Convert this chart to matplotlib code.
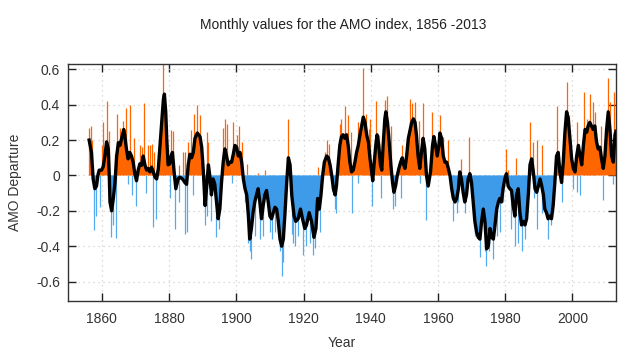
import matplotlib
matplotlib.use('Agg')
import matplotlib.pyplot as plt
import numpy as np

plt.rcParams['font.family'] = ['Liberation Sans', 'DejaVu Sans']

# smoothed AMO index (black line)
smooth_years = [1856.2, 1856.9, 1857.4, 1857.9, 1858.4, 1858.8, 1859.2, 1859.9, 1860.4, 1860.9,
                1861.4, 1861.9, 1862.2, 1862.4, 1862.9, 1863.4, 1863.9, 1864.4, 1864.9, 1865.4,
                1865.9, 1866.5, 1866.8, 1867.3, 1867.8, 1868.3, 1868.8, 1869.3, 1869.8, 1870.3,
                1870.8, 1871.3, 1871.8, 1872.3, 1872.8, 1873.3, 1873.8, 1874.3, 1874.8, 1875.3,
                1875.8, 1876.3, 1876.8, 1877.3, 1877.8, 1878.3, 1878.6, 1879.0, 1879.3, 1879.7,
                1880.2, 1880.6, 1881.0, 1881.5, 1882.0, 1882.7, 1883.2, 1884.0, 1884.7, 1885.2,
                1885.7, 1886.2, 1886.7, 1887.2, 1887.7, 1888.4, 1889.2, 1889.7, 1890.2, 1890.7,
                1891.2, 1891.7, 1892.1, 1892.6, 1893.1, 1893.6, 1894.1, 1894.6, 1895.1, 1895.6,
                1896.1, 1896.6, 1897.1, 1897.6, 1898.1, 1898.6, 1899.1, 1899.6, 1900.1, 1900.6,
                1901.1, 1901.6, 1902.1, 1902.6, 1903.1, 1903.6, 1904.0, 1904.5, 1905.0, 1905.5,
                1906.0, 1906.5, 1907.0, 1907.5, 1908.0, 1908.5, 1909.0, 1909.5, 1910.0, 1910.5,
                1911.0, 1911.5, 1912.0, 1912.5, 1913.0, 1913.5, 1914.0, 1914.5, 1915.0, 1915.5,
                1916.0, 1916.5, 1917.2, 1917.7, 1918.4, 1919.1, 1919.7, 1920.4, 1920.9, 1921.7,
                1922.4, 1923.1, 1923.7, 1924.2, 1924.7, 1925.2, 1925.7, 1926.2, 1926.9, 1927.4,
                1927.9, 1928.4, 1928.9, 1929.4, 1929.8, 1930.3, 1930.8, 1931.3, 1931.8, 1932.3,
                1932.8, 1933.3, 1933.8, 1934.3, 1934.8, 1935.3, 1935.8, 1936.3, 1936.8, 1937.3,
                1937.8, 1938.3, 1938.8, 1939.3, 1939.8, 1940.3, 1940.6, 1940.9, 1941.5, 1941.9,
                1942.4, 1942.9, 1943.3, 1943.7, 1944.2, 1944.5, 1945.0, 1945.5, 1946.0, 1946.5,
                1946.9, 1947.4, 1947.9, 1948.4, 1948.9, 1949.4, 1949.7, 1950.2, 1950.7, 1951.2,
                1951.7, 1952.2, 1952.7, 1953.2, 1953.6, 1954.1, 1954.6, 1955.1, 1955.6, 1956.1,
                1956.6, 1957.1, 1957.8, 1958.4, 1958.8, 1959.3, 1959.8, 1960.3, 1960.6, 1961.1,
                1961.6, 1962.1, 1962.6, 1963.1, 1963.6, 1964.1, 1964.6, 1965.1, 1965.6, 1966.1,
                1966.5, 1967.0, 1967.5, 1968.0, 1968.5, 1969.0, 1969.5, 1970.0, 1970.5, 1971.0,
                1971.5, 1972.0, 1972.5, 1973.0, 1973.5, 1974.0, 1974.5, 1975.0, 1975.5, 1976.0,
                1976.5, 1977.0, 1977.5, 1978.0, 1978.4, 1978.9, 1979.4, 1979.9, 1980.4, 1980.9,
                1981.4, 1981.9, 1982.4, 1982.9, 1983.4, 1983.9, 1984.4, 1984.9, 1985.4, 1985.9,
                1986.4, 1986.9, 1987.4, 1987.9, 1988.4, 1988.9, 1989.4, 1989.9, 1990.4, 1990.9,
                1991.4, 1991.8, 1992.3, 1992.8, 1993.3, 1993.8, 1994.3, 1994.8, 1995.3, 1995.8,
                1996.3, 1996.8, 1997.3, 1997.8, 1998.3, 1998.8, 1999.3, 1999.8, 2000.3, 2000.8,
                2001.3, 2001.8, 2002.3, 2002.8, 2003.3, 2003.8, 2004.3, 2004.7, 2005.2, 2005.7,
                2006.2, 2006.7, 2007.2, 2007.7, 2008.2, 2008.7, 2009.2, 2009.7, 2010.2, 2010.7,
                2011.2, 2011.7, 2012.2, 2012.7, 2013.0]
smooth_vals = [0.20, 0.13, -0.02, -0.075, -0.06, 0.0, 0.03, 0.03, 0.05, 0.11,
               0.19, 0.15, 0.0, -0.15, -0.20, -0.13, -0.04, 0.11, 0.185, 0.17,
               0.21, 0.26, 0.23, 0.15, 0.094, 0.13, 0.11, 0.075, 0.01, -0.03,
               0.03, 0.066, 0.057, 0.11, 0.06, 0.03, 0.04, 0.02, 0.047, 0.02,
               -0.01, -0.02, 0.04, 0.17, 0.30, 0.43, 0.46, 0.36, 0.21, 0.06,
               0.066, 0.11, 0.13, 0.02, -0.075, -0.02, -0.01, -0.02, -0.04, -0.05,
               0.06, 0.12, 0.10, 0.13, 0.21, 0.24, 0.22, 0.16, 0.02, -0.17,
               -0.06, 0.06, 0.0, -0.11, -0.02, -0.05, -0.15, -0.245, -0.19, -0.04,
               0.075, 0.15, 0.11, 0.06, 0.075, 0.075, 0.12, 0.17, 0.16, 0.11,
               0.13, 0.075, -0.02, -0.075, -0.11, -0.23, -0.36, -0.30, -0.21, -0.15,
               -0.11, -0.075, -0.15, -0.245, -0.17, -0.11, -0.085, -0.15, -0.23, -0.245,
               -0.21, -0.18, -0.19, -0.26, -0.36, -0.40, -0.36, -0.21, -0.04, 0.10,
               0.06, -0.11, -0.23, -0.26, -0.245, -0.19, -0.245, -0.30, -0.28, -0.21,
               -0.26, -0.35, -0.30, -0.13, -0.19, -0.11, 0.0, 0.075, 0.11, 0.10,
               0.06, 0.0, -0.075, -0.11, -0.06, 0.06, 0.17, 0.22, 0.23, 0.21,
               0.23, 0.17, 0.075, 0.02, 0.03, 0.075, 0.13, 0.17, 0.23, 0.28,
               0.33, 0.30, 0.23, 0.19, 0.094, 0.02, -0.03, 0.04, 0.17, 0.23,
               0.17, 0.06, 0.03, 0.17, 0.32, 0.36, 0.30, 0.19, 0.06, -0.04,
               -0.095, -0.06, 0.0, 0.04, 0.075, 0.10, 0.066, 0.04, 0.11, 0.21,
               0.255, 0.30, 0.32, 0.30, 0.23, 0.11, 0.04, 0.13, 0.21, 0.15,
               0.0, -0.06, 0.02, 0.17, 0.22, 0.17, 0.11, 0.17, 0.24, 0.21,
               0.11, 0.075, 0.075, 0.04, 0.0, -0.075, -0.13, -0.15, -0.13, -0.075,
               0.02, -0.02, -0.095, -0.15, -0.11, -0.02, 0.01, -0.04, -0.15, -0.26,
               -0.32, -0.35, -0.36, -0.26, -0.19, -0.26, -0.415, -0.40, -0.30, -0.35,
               -0.36, -0.28, -0.19, -0.15, -0.13, -0.15, -0.075, -0.02, 0.01, -0.06,
               -0.075, -0.085, -0.17, -0.23, -0.11, -0.075, -0.21, -0.28, -0.26, -0.28,
               -0.245, -0.11, 0.06, 0.094, 0.02, -0.075, -0.095, -0.06, -0.02, -0.06,
               -0.11, -0.19, -0.21, -0.245, -0.23, -0.245, -0.17, -0.04, 0.11, 0.13,
               0.02, -0.04, 0.075, 0.245, 0.36, 0.32, 0.21, 0.094, 0.04, 0.02,
               0.11, 0.17, 0.11, 0.06, 0.17, 0.26, 0.245, 0.28, 0.30, 0.28,
               0.26, 0.28, 0.19, 0.15, 0.16, 0.094, 0.04, 0.11, 0.26, 0.36,
               0.26, 0.11, 0.075, 0.23, 0.25]

# single warm months sticking out above the smoothed curve
peak_years = [1856.2, 1856.7, 1857.2, 1859.9, 1860.4, 1861.4, 1862.0, 1863.9, 1864.6, 1865.4,
              1866.3, 1867.1, 1868.5, 1869.5, 1871.3, 1871.8, 1872.6, 1873.8, 1874.3, 1875.0,
              1875.6, 1876.9, 1877.7, 1878.3, 1878.9, 1880.7, 1881.1, 1883.0, 1884.0, 1884.7,
              1885.7, 1886.4, 1887.4, 1888.2, 1889.2, 1891.2, 1891.6, 1896.1, 1896.6, 1897.3,
              1899.1, 1900.1, 1900.9, 1901.6, 1903.1, 1906.5, 1908.5, 1915.5, 1924.4, 1926.4,
              1927.1, 1927.7, 1930.8, 1931.3, 1932.3, 1933.3, 1934.0, 1936.3, 1937.6, 1938.6,
              1939.6, 1939.8, 1941.7, 1942.5, 1944.2, 1944.9, 1946.0, 1949.2, 1951.7, 1952.2,
              1953.2, 1954.4, 1955.6, 1958.1, 1960.6, 1961.6, 1963.1, 1967.0, 1969.2, 1980.4,
              1981.0, 1983.2, 1987.5, 1988.4, 1989.6, 1990.9, 1995.5, 1998.3, 1999.0, 2001.5,
              2003.4, 2004.4, 2005.3, 2006.2, 2006.8, 2008.5, 2010.5, 2011.2, 2012.4]
peak_vals = [0.27, 0.28, 0.20, 0.17, 0.30, 0.42, 0.25, 0.12, 0.35, 0.27,
             0.31, 0.38, 0.40, 0.21, 0.17, 0.16, 0.41, 0.17, 0.17, 0.18,
             0.13, 0.17, 0.30, 0.64, 0.40, 0.255, 0.25, 0.06, 0.13, 0.13,
             0.19, 0.255, 0.35, 0.40, 0.34, 0.245, 0.19, 0.27, 0.32, 0.29,
             0.30, 0.23, 0.28, 0.19, 0.066, 0.015, 0.03, 0.32, 0.05, 0.13,
             0.20, 0.18, 0.29, 0.32, 0.39, 0.34, 0.245, 0.30, 0.61, 0.35,
             0.26, 0.32, 0.42, 0.23, 0.425, 0.45, 0.28, 0.17, 0.43, 0.41,
             0.415, 0.31, 0.41, 0.36, 0.34, 0.22, 0.20, 0.094, 0.22, 0.15,
             0.03, 0.10, 0.30, 0.19, 0.20, 0.17, 0.39, 0.53, 0.34, 0.30,
             0.47, 0.32, 0.46, 0.415, 0.36, 0.28, 0.55, 0.415, 0.47]

# single cold months reaching below the smoothed curve
dip_years = [1857.7, 1858.3, 1859.4, 1862.6, 1863.2, 1864.1, 1867.8, 1869.1, 1870.3, 1873.0,
             1875.3, 1876.1, 1880.2, 1881.7, 1883.0, 1884.7, 1885.2, 1887.0, 1890.7, 1891.2,
             1892.6, 1894.1, 1894.9, 1898.6, 1902.6, 1903.6, 1904.0, 1904.5, 1905.5, 1907.0,
             1908.0, 1910.0, 1910.5, 1911.5, 1913.0, 1913.6, 1914.0, 1916.5, 1917.0, 1917.5,
             1918.4, 1919.9, 1920.6, 1921.9, 1922.9, 1923.5, 1924.9, 1928.4, 1929.4, 1929.8,
             1934.3, 1936.3, 1940.3, 1943.2, 1946.7, 1947.2, 1949.0, 1954.6, 1956.4, 1957.2,
             1964.6, 1965.6, 1966.1, 1968.0, 1971.0, 1972.5, 1974.0, 1974.4, 1975.2, 1976.4,
             1977.5, 1978.5, 1979.5, 1981.9, 1982.9, 1983.9, 1984.9, 1985.9, 1988.5, 1989.5,
             1991.0, 1992.8, 1993.8, 1996.8, 2000.1, 2001.3, 2002.4, 2009.2, 2012.1]
dip_vals = [-0.31, -0.23, -0.18, -0.35, -0.28, -0.355, -0.05, -0.11, -0.17, -0.10,
            -0.29, -0.245, -0.13, -0.30, -0.15, -0.33, -0.32, -0.11, -0.28, -0.23,
            -0.26, -0.35, -0.30, -0.04, -0.15, -0.38, -0.43, -0.47, -0.34, -0.36,
            -0.34, -0.32, -0.36, -0.32, -0.43, -0.57, -0.49, -0.33, -0.38, -0.40,
            -0.34, -0.45, -0.40, -0.38, -0.45, -0.41, -0.32, -0.09, -0.19, -0.21,
            -0.21, -0.04, -0.17, -0.13, -0.19, -0.17, -0.13, -0.04, -0.25, -0.05,
            -0.26, -0.21, -0.15, -0.21, -0.34, -0.46, -0.43, -0.51, -0.43, -0.47,
            -0.34, -0.32, -0.15, -0.30, -0.40, -0.38, -0.43, -0.36, -0.13, -0.30,
            -0.21, -0.36, -0.28, -0.15, -0.075, -0.095, -0.11, -0.14, -0.047]

year_ticks = [1860, 1880, 1900, 1920, 1940, 1960, 1980, 2000]
amo_ticks = [-0.6, -0.4, -0.2, 0, 0.2, 0.4, 0.6]
amo_tick_labels = ['-0.6', '-0.4', '-0.2', '0', '0.2', '0.4', '0.6']

warm = '#ff6600'
cold = '#3d9be9'

x = np.array(smooth_years)
y = np.array(smooth_vals)

fig = plt.figure(figsize=(6.4, 3.54), dpi=100)
ax = fig.add_axes([0.1067, 0.1497, 0.8558, 0.6709])

# spikes first so the solid fill sits over their lower part
ax.vlines(peak_years, 0, peak_vals, color=warm, lw=0.9, zorder=1.5)
ax.vlines(dip_years, 0, dip_vals, color='#55aaee', lw=0.9, zorder=1.5)
ax.fill_between(x, y, 0, where=y >= 0, interpolate=True, color=warm, lw=0, zorder=2)
ax.fill_between(x, y, 0, where=y <= 0, interpolate=True, color=cold, lw=0, zorder=2)
ax.plot(x, y, color='black', lw=2.4, solid_joinstyle='round', zorder=3)

ax.set_xlim(1850, 2013)
ax.set_ylim(-0.71, 0.633)
ax.set_xticks(year_ticks)
ax.set_yticks(amo_ticks)
ax.set_yticklabels(amo_tick_labels)
ax.tick_params(direction='in', length=6, width=1, top=True, right=True,
               labelsize=10, colors='#222222', labelcolor='#333333')
ax.tick_params(axis='y', pad=6)
ax.tick_params(axis='x', pad=8)
ax.grid(True, color='#d0d0d0', linestyle=(0, (1, 3)), lw=0.9)
ax.set_axisbelow(True)
for s in ax.spines.values():
    s.set_color('#333333')
    s.set_linewidth(1)

ax.set_xlabel('Year', fontsize=10, color='#333333', labelpad=7)
ax.set_ylabel('AMO Departure', fontsize=10, color='#333333', labelpad=10)
fig.text(0.536, 1 - 25 / 354, 'Monthly values for the AMO index, 1856 -2013',
         ha='center', va='center', fontsize=10, color='#222222')

fig.savefig('out.png', dpi=100)
